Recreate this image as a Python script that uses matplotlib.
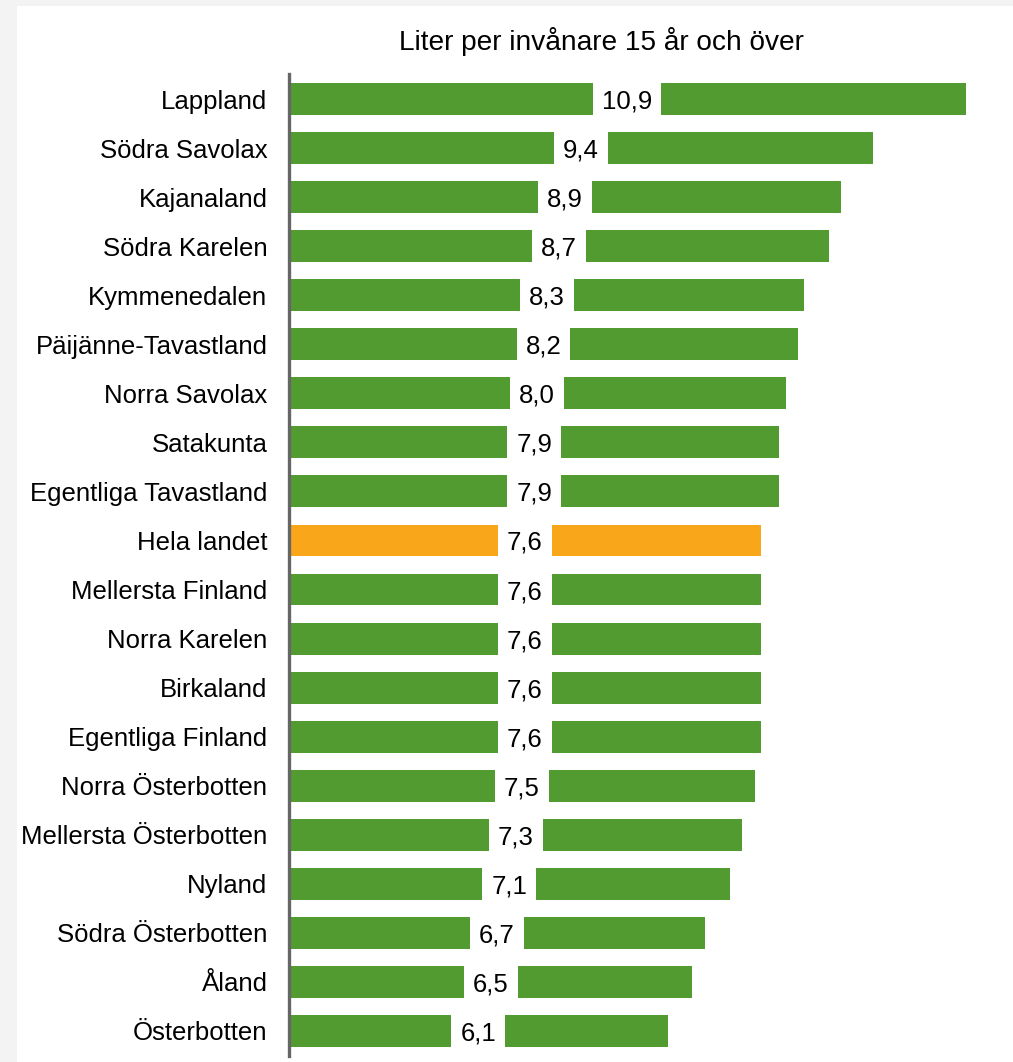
import matplotlib.pyplot as plt
from matplotlib.patches import Rectangle

regions = ["Lappland", "Södra Savolax", "Kajanaland", "Södra Karelen", "Kymmenedalen",
           "Päijänne-Tavastland", "Norra Savolax", "Satakunta", "Egentliga Tavastland",
           "Hela landet", "Mellersta Finland", "Norra Karelen", "Birkaland",
           "Egentliga Finland", "Norra Österbotten", "Mellersta Österbotten", "Nyland",
           "Södra Österbotten", "Åland", "Österbotten"]
liters = [10.9, 9.4, 8.9, 8.7, 8.3, 8.2, 8.0, 7.9, 7.9, 7.6,
          7.6, 7.6, 7.6, 7.6, 7.5, 7.3, 7.1, 6.7, 6.5, 6.1]
highlight = "Hela landet"

green = "#529b31"
orange = "#f9a61b"

plt.rcParams['font.family'] = ['Liberation Sans', 'DejaVu Sans']

fig = plt.figure(figsize=(10.13, 10.62), dpi=100, facecolor="#f3f3f3")
# white panel, grey strip left and top
fig.patches.append(Rectangle((17 / 1013, 0), 1, 1 - 6 / 1062, transform=fig.transFigure,
                             facecolor="white", edgecolor="none", zorder=-10))

ax = fig.add_axes([289 / 1013, 1 - 1055.5 / 1062, (1000 - 289) / 1013, 981 / 1062])
ax.set_facecolor("none")

colors = [orange if r == highlight else green for r in regions]
ypos = list(range(len(regions)))
ax.barh(ypos, liters, height=0.65, color=colors, left=0)

for y, v in zip(ypos, liters):
    ax.text(v / 2, y, f"{v:.1f}".replace(".", ","), ha="center", va="center_baseline",
            fontsize=18.5,
            bbox=dict(boxstyle="square,pad=0.35", facecolor="white", edgecolor="none"))

ax.set_xlim(0, (1000 - 291) / 61.9)
ax.set_ylim(len(regions) - 0.5, -0.5)
ax.set_yticks(ypos)
ax.set_yticklabels(regions, fontsize=18.5)
ax.tick_params(axis="y", length=0, pad=15.5)
ax.set_xticks([])
for s in ["top", "right", "bottom"]:
    ax.spines[s].set_visible(False)
ax.spines["left"].set_color("#666666")
ax.spines["left"].set_linewidth(2.4)

fig.text(601 / 1013, 1 - 42 / 1062, "Liter per invånare 15 år och över", fontsize=20.2,
         ha="center", va="center")

fig.savefig("out.png", dpi=100, facecolor=fig.get_facecolor())
